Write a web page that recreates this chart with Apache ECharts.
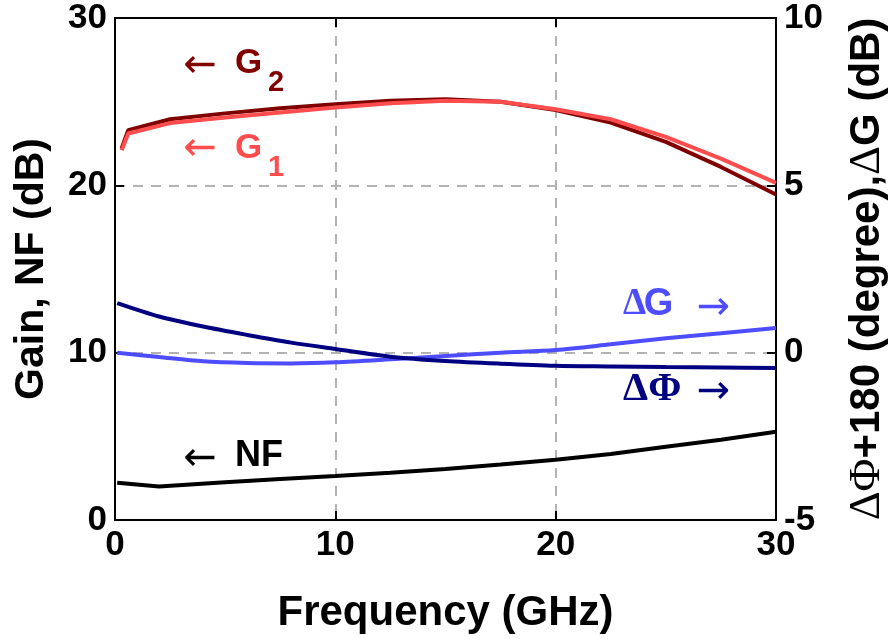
<!DOCTYPE html>
<html>
<head>
<meta charset="utf-8">
<script src="https://cdn.jsdelivr.net/npm/echarts@6/dist/echarts.min.js"></script>
<style>
html,body{margin:0;padding:0;background:#fff;overflow:hidden;width:891px;height:639px;}
#chart{width:891px;height:639px;}
</style>
</head>
<body>
<div id="chart"></div>
<script>
// ---- data ----
var freqG = [0.3, 0.6, 2.5, 5, 7.5, 10, 12.5, 15, 17.5, 20, 22.5, 25, 27.5, 30];
var gain2 = [22.2, 23.3, 23.95, 24.3, 24.6, 24.85, 25.05, 25.15, 25.0, 24.5, 23.75, 22.6, 21.1, 19.45];
var gain1 = [22.1, 23.1, 23.72, 24.05, 24.35, 24.65, 24.9, 25.05, 25.0, 24.55, 23.95, 22.9, 21.6, 20.15];

var freqD = [0.1, 2, 4, 6, 8, 10, 12.5, 15, 17.5, 20, 22.5, 25, 27.5, 30];
var deltaPhi = [1.48, 1.08, 0.78, 0.53, 0.3, 0.11, -0.12, -0.25, -0.33, -0.39, -0.41, -0.43, -0.44, -0.46];
var deltaG = [0.0, -0.13, -0.26, -0.31, -0.32, -0.29, -0.2, -0.1, 0.0, 0.08, 0.25, 0.43, 0.58, 0.74];

var freqNF = [0.1, 2, 5, 7.5, 10, 12.5, 15, 17.5, 20, 22.5, 25, 27.5, 30];
var noiseFig = [2.22, 2.0, 2.25, 2.45, 2.63, 2.83, 3.05, 3.32, 3.6, 3.95, 4.38, 4.8, 5.28];

var xTicks = [0, 10, 20, 30];
var yLeftTicks = [0, 10, 20, 30];
var yRightTicks = [-5, 0, 5, 10];

function pairs(xs, ys) { return xs.map(function (x, i) { return [x, ys[i]]; }); }

var SANS = 'Liberation Sans, Arial, sans-serif';
var SERIF = 'Liberation Serif, Times New Roman, serif';
var ARROW = 'DejaVu Sans, sans-serif';
var C_G2 = '#800000', C_G1 = '#ff4d4d', C_DG = '#4d4dff', C_DP = '#000080', C_NF = '#000000';

// annotation texts (placed in data coordinates of left axis)
var notes = [
  {p: [3.1, 27.07], t: '\u2190', c: C_G2, f: ARROW, s: 40, w: 'normal'},
  {p: [5.45, 27.28], t: 'G', c: C_G2, f: SANS, s: 35, w: 'bold'},
  {p: [6.94, 26.09], t: '2', c: C_G2, f: SANS, s: 29, w: 'bold'},
  {p: [3.1, 22.11], t: '\u2190', c: C_G1, f: ARROW, s: 40, w: 'normal'},
  {p: [5.45, 22.2], t: 'G', c: C_G1, f: SANS, s: 35, w: 'bold'},
  {p: [6.94, 21.04], t: '1', c: C_G1, f: SANS, s: 29, w: 'bold'},
  {p: [23.06, 12.88], t: '\u0394', c: C_DG, f: SERIF, s: 37, w: 'bold'},
  {p: [24.0, 12.88], t: 'G', c: C_DG, f: SANS, s: 38, w: 'bold'},
  {p: [26.4, 12.61], t: '\u2192', c: C_DG, f: ARROW, s: 40, w: 'normal'},
  {p: [23.06, 7.8], t: '\u0394\u03A6', c: C_DP, f: SERIF, s: 40, w: 'bold'},
  {p: [26.4, 7.59], t: '\u2192', c: C_DP, f: ARROW, s: 40, w: 'normal'},
  {p: [3.1, 3.59], t: '\u2190', c: C_NF, f: ARROW, s: 40, w: 'normal'},
  {p: [5.45, 3.82], t: 'NF', c: C_NF, f: SANS, s: 36, w: 'bold'}
];

var chart = echarts.init(document.getElementById('chart'), null, {renderer: 'canvas', width: 891, height: 639});

var axisLineStyle = {show: true, onZero: false, lineStyle: {color: '#000', width: 2}};
var tickStyle = {show: true, inside: true, length: 9, lineStyle: {color: '#000', width: 2}};
var labelStyle = {color: '#000', fontFamily: SANS, fontWeight: 'bold', fontSize: 35};
var dashed = {show: true, lineStyle: {color: '#b3b3b3', width: 2, type: [10, 8]}};

var option = {
  animation: false,
  backgroundColor: '#fff',
  grid: {left: 115, right: 115, top: 18, bottom: 119, containLabel: false, outerBoundsMode: 'none'},
  xAxis: [
    {type: 'value', min: 0, max: 30, interval: 10, position: 'bottom',
     axisLine: axisLineStyle, axisTick: tickStyle,
     axisLabel: Object.assign({margin: 8, formatter: function (v) { return xTicks.indexOf(v) >= 0 ? String(v) : ''; }}, labelStyle),
     splitLine: dashed,
     name: 'Frequency (GHz)', nameLocation: 'middle', nameGap: 72,
     nameTextStyle: {color: '#000', fontFamily: SANS, fontWeight: 'bold', fontSize: 42}},
    {type: 'value', min: 0, max: 30, interval: 10, position: 'top',
     axisLine: axisLineStyle, axisTick: tickStyle, axisLabel: {show: false}, splitLine: {show: false}}
  ],
  yAxis: [
    {type: 'value', min: 0, max: 30, interval: 10, position: 'left',
     axisLine: axisLineStyle, axisTick: tickStyle,
     axisLabel: Object.assign({margin: 8, formatter: function (v) { return yLeftTicks.indexOf(v) >= 0 ? String(v) : ''; }}, labelStyle),
     splitLine: dashed,
     name: 'Gain, NF (dB)', nameLocation: 'middle', nameGap: 63, nameRotate: 90,
     nameTextStyle: {color: '#000', fontFamily: SANS, fontWeight: 'bold', fontSize: 41}},
    {type: 'value', min: -5, max: 10, interval: 5, position: 'right',
     axisLine: axisLineStyle, axisTick: tickStyle,
     axisLabel: Object.assign({margin: 8, formatter: function (v) { return yRightTicks.indexOf(v) >= 0 ? String(v) : ''; }}, labelStyle),
     splitLine: {show: false},
     name: '{sym|\u0394\u03A6}+180 (degree),{sym2|\u0394}G (dB)', nameLocation: 'middle', nameGap: 69, nameRotate: 90,
     nameTextStyle: {color: '#000', fontFamily: SANS, fontWeight: 'bold', fontSize: 42, verticalAlign: 'top',
       rich: {
         sym: {fontFamily: SERIF, fontWeight: 'normal', fontSize: 45, color: '#000'},
         sym2: {fontFamily: SERIF, fontWeight: 'normal', fontSize: 45, color: '#000'}
       }}}
  ],
  series: [
    {name: 'G2', type: 'line', xAxisIndex: 0, yAxisIndex: 0, data: pairs(freqG, gain2),
     showSymbol: false, lineStyle: {color: C_G2, width: 4}, z: 3},
    {name: 'G1', type: 'line', xAxisIndex: 0, yAxisIndex: 0, data: pairs(freqG, gain1),
     showSymbol: false, lineStyle: {color: C_G1, width: 4}, z: 4},
    {name: 'dG', type: 'line', xAxisIndex: 0, yAxisIndex: 1, data: pairs(freqD, deltaG),
     showSymbol: false, smooth: 0.3, lineStyle: {color: C_DG, width: 4}, z: 3},
    {name: 'dPhi', type: 'line', xAxisIndex: 0, yAxisIndex: 1, data: pairs(freqD, deltaPhi),
     showSymbol: false, smooth: 0.3, lineStyle: {color: C_DP, width: 4}, z: 4},
    {name: 'NF', type: 'line', xAxisIndex: 0, yAxisIndex: 0, data: pairs(freqNF, noiseFig),
     showSymbol: false, lineStyle: {color: C_NF, width: 4}, z: 4},
    {name: 'notes', type: 'scatter', xAxisIndex: 0, yAxisIndex: 0, symbolSize: 0, silent: true, z: 10,
     itemStyle: {opacity: 1},
     data: notes.map(function (n) {
       return {value: n.p, label: {show: true, position: 'right', distance: 0, formatter: n.t, opacity: 1,
         color: n.c, fontFamily: n.f, fontSize: n.s, fontWeight: n.w}};
     })}
  ]
};
chart.setOption(option);
</script>
</body>
</html>
